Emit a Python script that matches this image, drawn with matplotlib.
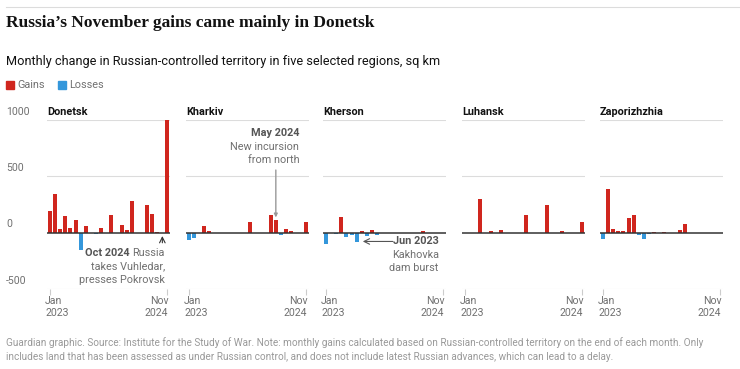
import matplotlib.pyplot as plt
import numpy as np
from matplotlib.patches import Rectangle
from matplotlib.lines import Line2D

# monthly change, sq km (Dec 2022 .. Nov 2024, 24 months)
regions = ['Donetsk', 'Kharkiv', 'Kherson', 'Luhansk', 'Zaporizhzhia']
donetsk = [195, 340, 36, 152, 45, 116, -158, 63, 0, -15, 39, 0,
           161, 0, 72, 21, 277, 0, 0, 250, 164, 6, 0, 1000]
kharkiv = [-65, -45, 0, 56, 18, 0, 0, 0, 0, 0, 0, 0,
           95, 0, 0, 0, 160, 110, -24, 33, 12, 0, 0, 98]
kherson = [-101, 0, -9, 137, -39, -24, -83, 18, -33, 27, -18, 0,
           0, 0, 0, 0, 0, 0, 0, 15, 0, 0, 0, 0]
luhansk = [-5, -5, 0, 303, 0, 18, 0, 27, 0, 0, 0, 0,
           160, 0, 0, 0, 244, 0, -3, 12, 0, 0, 0, 92]
zaporizhzhia = [-57, 390, 30, 15, 15, 131, 158, -24, -57, -9, 5, -3,
                8, 0, -3, 24, 75, 0, 0, 0, 0, 0, 0, 0]
series = [donetsk, kharkiv, kherson, luhansk, zaporizhzhia]
months = np.arange(24)
yticks = [1000, 500, 0, -500]

RED = '#d0261e'
BLUE = '#3497db'
GREY = '#707070'
SANS = ['Roboto', 'DejaVu Sans']

W, H = 740, 369
fig = plt.figure(figsize=(W / 100, H / 100), dpi=100)

def fx(px):
    return px / W

def fy(py):
    return 1 - py / H

fig.add_artist(Line2D([fx(6), 1], [fy(7), fy(7)], color='#dcdcdc', lw=0.8))
fig.text(fx(6), fy(23), 'Russia\u2019s November gains came mainly in Donetsk',
         family='Liberation Serif', weight='bold', fontsize=12.5, color='#121212', va='center')
fig.text(fx(6), fy(61), 'Monthly change in Russian-controlled territory in five selected regions, sq km',
         family=SANS, fontsize=9.2, color='#121212', va='center')

# legend
fig.add_artist(Rectangle((fx(6), fy(89)), 8 / W, 8 / H, transform=fig.transFigure, color=RED))
fig.text(fx(17), fy(85), 'Gains', family=SANS, fontsize=7.8, color=GREY, va='center')
fig.add_artist(Rectangle((fx(58), fy(89)), 8 / W, 8 / H, transform=fig.transFigure, color=BLUE))
fig.text(fx(69), fy(85), 'Losses', family=SANS, fontsize=7.8, color=GREY, va='center')

lefts = [47, 186, 323, 462, 600]
axes = []
for name, vals, L in zip(regions, series, lefts):
    ax = fig.add_axes([fx(L), fy(289), 123 / W, 169 / H])
    ax.set_xlim(-0.6, 23.5)
    ax.set_ylim(-500, 1000)
    for v in [1000, 500, -500]:
        ax.axhline(v, color='#dcdcdc', lw=0.8, zorder=1)
    cols = [RED if v > 0 else BLUE for v in vals]
    ax.bar(months, vals, width=0.78, color=cols, zorder=2, clip_on=False)
    ax.axhline(0, color='#333333', lw=1.1, zorder=3)
    for s in ax.spines.values():
        s.set_visible(False)
    ax.set_yticks([])
    ax.set_xticks([0, 23])
    ax.set_xticklabels([])
    ax.tick_params(axis='x', length=4, width=0.8, color='#cccccc')
    ax.annotate('Jan\n2023', xy=(0, -500), xytext=(-5, -7), textcoords='offset pixels',
                ha='left', va='top', family=SANS, fontsize=7.6, color=GREY, linespacing=1.25)
    ax.annotate('Nov\n2024', xy=(23, -500), xytext=(1, -7), textcoords='offset pixels',
                ha='right', va='top', family=SANS, fontsize=7.6, color=GREY, linespacing=1.25,
                multialignment='right')
    fig.text(fx(L), fy(112), name, family=SANS, weight='bold', fontsize=7.8, color='#121212', va='center')
    axes.append(ax)

for v, py in zip(yticks, [120, 176, 232, 289]):
    fig.text(fx(6), fy(py - 3), str(v), family=SANS, fontsize=7.6, color=GREY, va='bottom')

# annotations
ad, ak, ah = axes[0], axes[1], axes[2]
ad.annotate('', xy=(22, -30), xytext=(22, -90),
            arrowprops=dict(arrowstyle='->', color='#333333', lw=0.8, shrinkA=0, shrinkB=0))
t = ad.text(22.5, -180, 'Russia', ha='right', va='center', family=SANS, fontsize=7.8, color=GREY)
ad.text(22.5, -296, 'takes Vuhledar,', ha='right', va='center', family=SANS, fontsize=7.8, color=GREY)
ad.text(22.5, -420, 'presses Pokrovsk', ha='right', va='center', family=SANS, fontsize=7.8, color=GREY)

ak.annotate('', xy=(17, 135), xytext=(17, 556),
            arrowprops=dict(arrowstyle='-|>', color='#999999', lw=1.0, mutation_scale=5,
                            shrinkA=0, shrinkB=0))
ak.text(21.6, 885, 'May 2024', ha='right', va='center', family=SANS, weight='bold', fontsize=7.8, color='#555555')
ak.text(21.6, 760, 'New incursion', ha='right', va='center', family=SANS, fontsize=7.8, color=GREY)
ak.text(21.6, 645, 'from north', ha='right', va='center', family=SANS, fontsize=7.8, color=GREY)

ah.annotate('', xy=(7.2, -78), xytext=(13.1, -78),
            arrowprops=dict(arrowstyle='->', color='#555555', lw=0.8, shrinkA=0, shrinkB=0))
ah.text(22.1, -78, 'Jun 2023', ha='right', va='center', family=SANS, weight='bold', fontsize=7.8, color='#555555')
ah.text(22.1, -198, 'Kakhovka', ha='right', va='center', family=SANS, fontsize=7.8, color=GREY)
ah.text(22.1, -314, 'dam burst', ha='right', va='center', family=SANS, fontsize=7.8, color=GREY)

fig.canvas.draw()
bb = t.get_window_extent()
fig.text((bb.x0 - 3) / W, fy(253), 'Oct 2024', ha='right', va='center', family=SANS,
         weight='bold', fontsize=7.8, color='#555555')

fig.text(fx(6), fy(343), 'Guardian graphic. Source: Institute for the Study of War. Note: monthly gains calculated '
         'based on Russian-controlled territory on the end of each month. Only',
         family=SANS, fontsize=7.2, color='#999999', va='center')
fig.text(fx(6), fy(357), 'includes land that has been assessed as under Russian control, and does not include '
         'latest Russian advances, which can lead to a delay.',
         family=SANS, fontsize=7.2, color='#999999', va='center')

fig.savefig('out.png', dpi=100)
